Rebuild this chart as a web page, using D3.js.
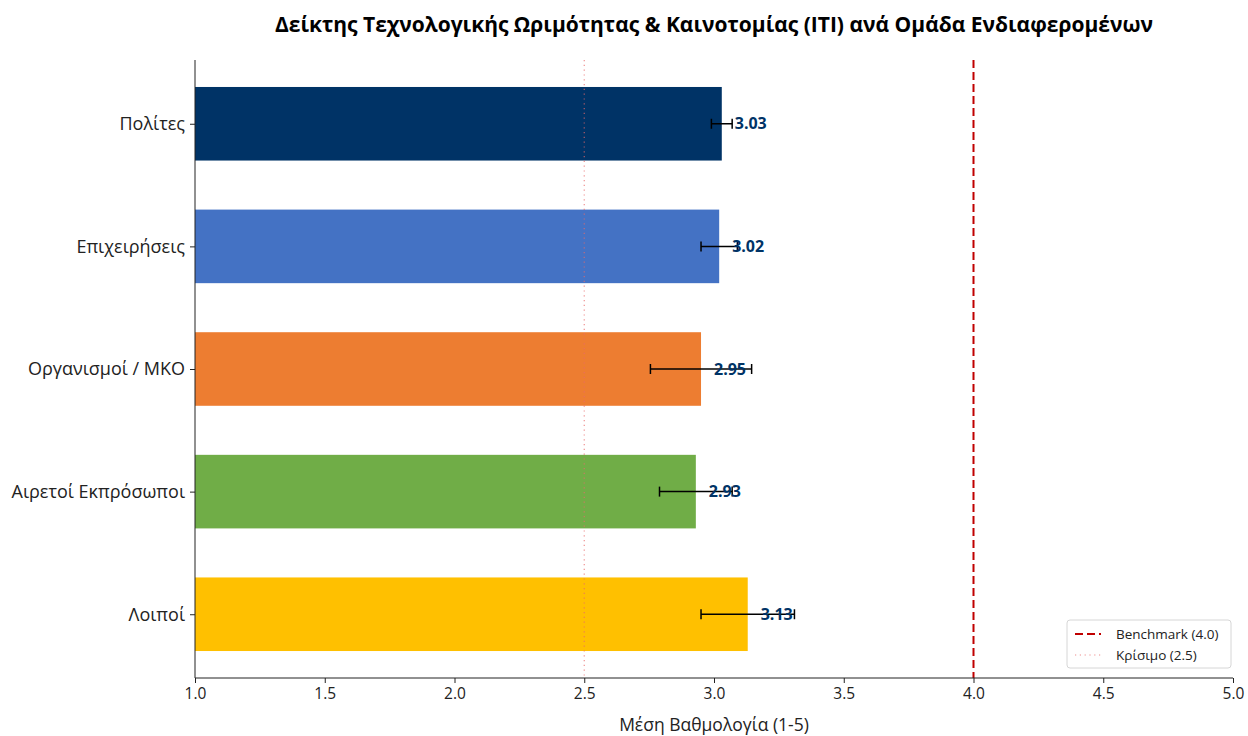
<!DOCTYPE html>
<html>
<head>
<meta charset="utf-8">
<script src="https://cdn.jsdelivr.net/npm/d3@7"></script>
<style>
  body { margin: 0; background: #fff; }
  text { font-family: "Open Sans", "Noto Sans", "DejaVu Sans", sans-serif; fill: #222; }
</style>
</head>
<body>
<svg id="chart" width="1248" height="736"></svg>
<script>
'use strict';

// Data
const groups = ['Πολίτες', 'Επιχειρήσεις', 'Οργανισμοί / ΜΚΟ', 'Αιρετοί Εκπρόσωποι', 'Λοιποί'];
const means = [3.03, 3.02, 2.95, 2.93, 3.13];
const errors = [0.04, 0.07, 0.195, 0.14, 0.18];
const barColors = ['#003366', '#4472C4', '#ED7D31', '#70AD47', '#FFC000'];
const xTicks = [1.0, 1.5, 2.0, 2.5, 3.0, 3.5, 4.0, 4.5, 5.0];
const benchmark = 4.0;
const critical = 2.5;

const svg = d3.select('#chart');

const plotLeft = 195, plotRight = 1233, plotTop = 60, plotBottom = 678;

// Scales
const x = d3.scaleLinear().domain([1, 5]).range([plotLeft, plotRight]);
const y = d3.scaleLinear().domain([-0.52, groups.length - 0.48]).range([plotTop, plotBottom]);
const barH = (y(1) - y(0)) * 0.6;

// Title
svg.append('text')
   .attr('x', (plotLeft + plotRight) / 2)
   .attr('y', 32)
   .attr('text-anchor', 'middle')
   .style('font-size', '21px')
   .style('font-weight', 'bold')
   .style('fill', '#000')
   .text('Δείκτης Τεχνολογικής Ωριμότητας & Καινοτομίας (ITI) ανά Ομάδα Ενδιαφερομένων');

// Bars
svg.selectAll('rect.bar')
   .data(groups)
   .enter()
   .append('rect')
     .attr('class', 'bar')
     .attr('x', x(1))
     .attr('y', (d, i) => y(i) - barH / 2)
     .attr('width', (d, i) => x(means[i]) - x(1))
     .attr('height', barH)
     .attr('fill', (d, i) => barColors[i]);

// Reference lines
svg.append('line')
   .attr('x1', x(critical)).attr('x2', x(critical))
   .attr('y1', plotTop).attr('y2', plotBottom)
   .attr('stroke', '#e86a6a')
   .attr('stroke-opacity', 0.75)
   .attr('stroke-width', 1.2)
   .attr('stroke-dasharray', '1.2,3.6');

svg.append('line')
   .attr('x1', x(benchmark)).attr('x2', x(benchmark))
   .attr('y1', plotTop).attr('y2', plotBottom)
   .attr('stroke', '#C00000')
   .attr('stroke-width', 2)
   .attr('stroke-dasharray', '8,4');

// Error bars
const err = svg.append('g');
groups.forEach((g, i) => {
    const cy = y(i);
    err.append('line')
       .attr('x1', x(means[i] - errors[i])).attr('x2', x(means[i] + errors[i]))
       .attr('y1', cy).attr('y2', cy)
       .attr('stroke', '#000').attr('stroke-width', 1.5);
    [means[i] - errors[i], means[i] + errors[i]].forEach(v => {
        err.append('line')
           .attr('x1', x(v)).attr('x2', x(v))
           .attr('y1', cy - 5).attr('y2', cy + 5)
           .attr('stroke', '#000').attr('stroke-width', 1.5);
    });
});

// Value labels
svg.selectAll('text.value')
   .data(groups)
   .enter()
   .append('text')
     .attr('class', 'value')
     .attr('x', (d, i) => x(means[i] + 0.05))
     .attr('y', (d, i) => y(i))
     .attr('dy', '0.35em')
     .style('font-size', '16px')
     .style('font-weight', 'bold')
     .style('fill', '#003366')
     .text((d, i) => means[i].toFixed(2));

// Axes
const xAxis = d3.axisBottom(x)
    .tickValues(xTicks)
    .tickFormat(d3.format('.1f'))
    .tickSize(5)
    .tickPadding(5);

svg.append('g')
   .attr('transform', `translate(0, ${plotBottom})`)
   .call(xAxis)
   .call(g => g.select('.domain').attr('d', `M${plotLeft},0H${plotRight}`))
   .call(g => g.selectAll('text').style('font-size', '15.5px').style('fill', '#222'));

const yAxis = d3.axisLeft(y)
    .tickValues(d3.range(groups.length))
    .tickFormat(i => groups[i])
    .tickSize(5)
    .tickPadding(5);

svg.append('g')
   .attr('transform', `translate(${plotLeft}, 0)`)
   .call(yAxis)
   .call(g => g.select('.domain').attr('d', `M0,${plotTop}V${plotBottom}`))
   .call(g => g.selectAll('text').style('font-size', '18px').style('fill', '#222'));

svg.selectAll('.domain, .tick line').attr('stroke', '#222');

// Axis label
svg.append('text')
   .attr('x', (plotLeft + plotRight) / 2)
   .attr('y', 731)
   .attr('text-anchor', 'middle')
   .style('font-size', '17.5px')
   .text('Μέση Βαθμολογία (1-5)');

// Legend
const legend = svg.append('g').attr('transform', 'translate(1067, 620)');
legend.append('rect')
      .attr('width', 164).attr('height', 48)
      .attr('rx', 3)
      .attr('fill', '#fff')
      .attr('fill-opacity', 0.85)
      .attr('stroke', '#d6d6d6');
legend.append('line')
      .attr('x1', 8).attr('x2', 34).attr('y1', 14).attr('y2', 14)
      .attr('stroke', '#C00000').attr('stroke-width', 2).attr('stroke-dasharray', '8,4');
legend.append('line')
      .attr('x1', 8).attr('x2', 34).attr('y1', 35).attr('y2', 35)
      .attr('stroke', '#e86a6a').attr('stroke-opacity', 0.75)
      .attr('stroke-width', 1.2).attr('stroke-dasharray', '1.2,3.6');
legend.append('text').attr('x', 49).attr('y', 14).attr('dy', '0.35em')
      .style('font-size', '13.5px').text('Benchmark (4.0)');
legend.append('text').attr('x', 49).attr('y', 35).attr('dy', '0.35em')
      .style('font-size', '13.5px').text('Κρίσιμο (2.5)');
</script>
</body>
</html>
